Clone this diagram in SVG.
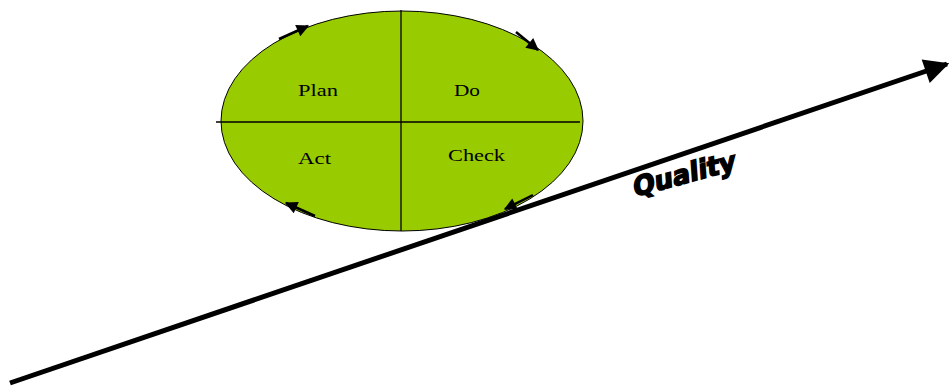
<svg xmlns="http://www.w3.org/2000/svg" width="949" height="386" viewBox="0 0 949 386">
<defs>
<style>
.lbl{font-family:"Liberation Serif","Times New Roman",serif;font-size:16px;fill:#000}
.cyc{stroke:#000;stroke-width:2.5;fill:none}
</style>
<marker id="sh" viewBox="0 0 10 10" refX="9" refY="5" markerWidth="6" markerHeight="5" markerUnits="strokeWidth" orient="auto"><path d="M0,0 L10,5 L0,10 Z" fill="#000"/></marker>
<marker id="big" viewBox="0 0 10 10" refX="9" refY="5" markerWidth="6" markerHeight="5" markerUnits="strokeWidth" orient="auto"><path d="M0,0 L10,5 L0,10 Z" fill="#000"/></marker>
</defs>
<g id="cycle">
<ellipse cx="402" cy="121" rx="181" ry="110" fill="#99CC00" stroke="#000" stroke-width="1"/>
<line x1="401" y1="10" x2="401" y2="231" stroke="#000" stroke-width="1.3"/>
<line x1="216" y1="122" x2="580" y2="122" stroke="#000" stroke-width="1.3"/>
</g>
<g id="plan"><text class="lbl" x="298" y="96" textLength="40" lengthAdjust="spacingAndGlyphs">Plan</text></g>
<g id="do"><text class="lbl" x="454" y="96" textLength="26" lengthAdjust="spacingAndGlyphs">Do</text></g>
<g id="act"><text class="lbl" x="298" y="164" textLength="33" lengthAdjust="spacingAndGlyphs">Act</text></g>
<g id="check"><text class="lbl" x="448" y="161" textLength="57" lengthAdjust="spacingAndGlyphs">Check</text></g>
<g id="connectors">
<line class="cyc" x1="279" y1="39" x2="308" y2="26" marker-end="url(#sh)"/>
<line class="cyc" x1="516" y1="32" x2="538" y2="50" marker-end="url(#sh)"/>
<line class="cyc" x1="533" y1="195" x2="505" y2="209" marker-end="url(#sh)"/>
<line class="cyc" x1="315" y1="216" x2="286" y2="203" marker-end="url(#sh)"/>
<line x1="10" y1="383" x2="947" y2="64" stroke="#000" stroke-width="5" marker-end="url(#big)"/>
</g>
<g id="quality"><text x="0" y="0" transform="translate(634,197) rotate(-4) skewY(-11)" font-family="DejaVu Sans, sans-serif" font-weight="900" font-size="27" textLength="104" lengthAdjust="spacingAndGlyphs" stroke="#000" stroke-width="1.6" fill="#000">Quality</text></g>
</svg>
